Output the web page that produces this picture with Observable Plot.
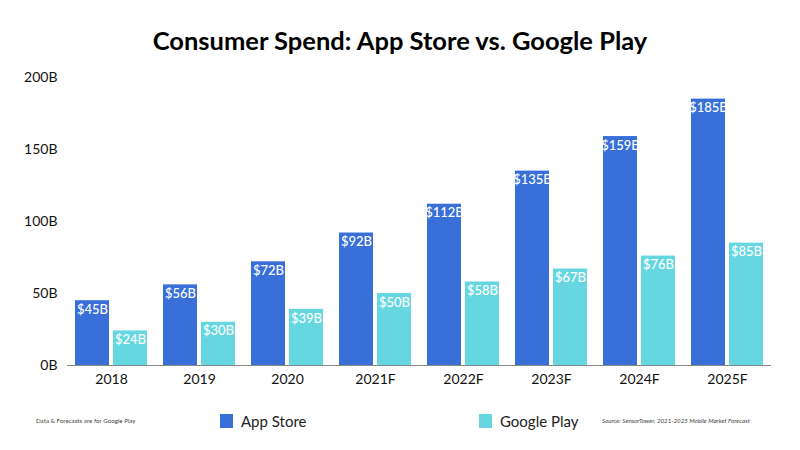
<!DOCTYPE html>
<html>
<head>
<meta charset="utf-8">
<script src="https://cdn.jsdelivr.net/npm/d3@7"></script>
<script src="https://cdn.jsdelivr.net/npm/@observablehq/plot@0.6"></script>
<style>
  html, body { margin: 0; padding: 0; background: #fff; }
  #page { position: relative; width: 800px; height: 450px; overflow: hidden; font-family: Lato, sans-serif; color: #111; }
  #title { position: absolute; left: 0; right: 0; top: 23px; text-align: center; font-size: 25.5px; line-height: 34px; font-weight: 700; color: #000; }
  #chart { position: absolute; left: 0; top: 60px; }
  .note { position: absolute; font-size: 6.2px; line-height: 8px; color: #444; white-space: nowrap; }
  .swatch { position: absolute; width: 13px; height: 14px; }
  .key { position: absolute; font-size: 15px; line-height: 18px; color: #222; white-space: nowrap; }
</style>
</head>
<body>
<div id="page">
  <div id="title">Consumer Spend: App Store vs. Google Play</div>
  <div id="chart"></div>
  <div class="note" style="left:36px;top:417px">Data &amp; Forecasts are for Google Play</div>
  <div class="swatch" style="left:220px;top:414px;background:#386fd9"></div>
  <div class="key" style="left:241px;top:412px">App Store</div>
  <div class="swatch" style="left:479px;top:414px;background:#66d7e1"></div>
  <div class="key" style="left:500px;top:412px">Google Play</div>
  <div class="note" style="left:602px;top:417px;font-style:italic">Source: SensorTower, 2021-2025 Mobile Market Forecast</div>
</div>
<script>
const years = ["2018", "2019", "2020", "2021F", "2022F", "2023F", "2024F", "2025F"];
const appStore = [45, 56, 72, 92, 112, 135, 159, 185];
const googlePlay = [24, 30, 39, 50, 58, 67, 76, 85];
const seriesNames = ["App Store", "Google Play"];
const seriesColors = ["#386fd9", "#66d7e1"];
const yTicks = [0, 50, 100, 150, 200];

const rows = years.flatMap((year, i) => [
  {year, series: seriesNames[0], value: appStore[i]},
  {year, series: seriesNames[1], value: googlePlay[i]}
]);

const chart = Plot.plot({
  width: 800,
  height: 340,
  marginTop: 17,
  marginBottom: 35,
  marginLeft: 67,
  marginRight: 29,
  style: {fontFamily: "Lato, sans-serif", fontSize: "14px", color: "#111", background: "transparent"},
  fx: {domain: years, padding: 0, label: null, axis: null},
  x: {domain: seriesNames, paddingInner: 0.1, paddingOuter: 0.18, axis: null, label: null},
  y: {domain: [0, 200], ticks: yTicks, label: null, axis: null},
  color: {domain: seriesNames, range: seriesColors},
  marks: [
    Plot.axisY(yTicks, {tickSize: 0, tickPadding: 10, tickFormat: d => d + "B", label: null, fontSize: 14}),
    Plot.axisFx({anchor: "bottom", tickSize: 0, tickPadding: 9, label: null, fontSize: 14}),
    Plot.barY(rows, {fx: "year", x: "series", y: "value", fill: "series"}),
    Plot.ruleY([0], {stroke: "#8a8a8a", strokeWidth: 1}),
    Plot.text(rows, {fx: "year", x: "series", y: "value", text: d => "$" + d.value + "B", fill: "#fff", dy: 9, fontSize: 13, fontWeight: 500})
  ]
});
document.getElementById("chart").appendChild(chart);
</script>
</body>
</html>
